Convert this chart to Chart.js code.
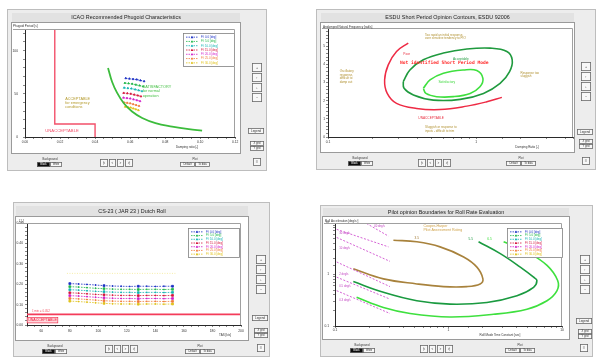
<!DOCTYPE html>
<html><head><meta charset="utf-8">
<script src="https://cdn.jsdelivr.net/npm/chart.js@4.4.1/dist/chart.umd.min.js"></script>
<style>
html,body{margin:0;padding:0;background:#fff;}
#wrap{position:relative;width:600px;height:362px;overflow:hidden;}
canvas{position:absolute;display:block;}
</style></head><body>
<div id="wrap">
<canvas id="bg" width="600" height="362" style="left:0;top:0"></canvas>
<canvas id="c1" width="228" height="130" style="left:12px;top:23px"></canvas>
<canvas id="c2" width="253" height="129" style="left:321px;top:23px"></canvas>
<canvas id="c3" width="232" height="123" style="left:16px;top:217px"></canvas>
<canvas id="c4" width="246" height="122" style="left:323px;top:217px"></canvas>
</div>
<script>
// ================= DATA =================
const seriesNames  = ['Fl: 0.0 [deg]','Fl: 5.0 [deg]','Fl: 10.0 [deg]','Fl: 15.0 [deg]','Fl: 20.0 [deg]','Fl: 25.0 [deg]','Fl: 30.0 [deg]'];
const seriesColors = ['#1a2fc4','#22b84a','#14b4b4','#d4143c','#d020c8','#f07a3a','#e0c21a'];

// Panel 1 - ICAO phugoid
const p1Title = 'ICAO Recommended Phugoid Characteristics';
const p1XTicks = [0, 0.02, 0.04, 0.06, 0.08, 0.10, 0.12];
const p1YTicks = [0, 50, 100];
const p1UnaccX = [0.017, 0.017, 0.04, 0.04];
const p1UnaccY = [125, 15, 15, 0];
const p1SatX = [0.0474,0.0497,0.0526,0.0564,0.0611,0.0669,0.0745,0.084,0.0935,0.1011];
const p1SatY = [80,64,51,39,29.5,22,16,12,9,7.3];
const p1RunX = [
 [0.0575,0.0596,0.0617,0.0638,0.0659,0.0680],
 [0.0570,0.0591,0.0612,0.0633,0.0654,0.0674],
 [0.0566,0.0587,0.0608,0.0629,0.0649,0.0668],
 [0.0563,0.0584,0.0604,0.0624,0.0644,0.0662],
 [0.0562,0.0582,0.0601,0.0620,0.0639,0.0657],
 [0.0565,0.0583,0.0600,0.0617,0.0634,0.0651],
 [0.0572,0.0588,0.0603,0.0618,0.0633,0.0648]];
const p1RunY = [
 [68,67.5,67,66.5,65.5,64.5],
 [62.5,62,61.5,60.5,59.5,58.5],
 [57,56.5,56,55,54,53],
 [51,50.5,50,49,48,47],
 [45.5,45,44.5,43.5,42.5,41.5],
 [40,39.5,39,38,37,36],
 [35,34.5,34,33,32,31]];

// Panel 2 - ESDU short period
const p2Title = 'ESDU Short Period Opinion Contours, ESDU 92006';
const p2XTicks = [0.1, 1];
const p2YTicks = [0,1,2,3,4,5,6];
const p2PoorX = [0.348,0.290,0.255,0.241,0.251,0.290,0.396,0.570,0.865,1.18,1.49];
const p2PoorY = [5.17,4.71,3.97,3.14,2.40,1.85,1.57,1.51,1.70,1.94,2.18];
const p2AccX = [0.322,0.357,0.440,0.601,0.865,1.24,1.61,1.75,1.68,1.45,1.12,0.780,0.514,0.377,0.326,0.322];
const p2AccY = [3.05,3.69,4.25,4.62,4.84,4.89,4.71,4.25,3.60,2.95,2.40,2.07,2.03,2.31,2.68,3.05];
const p2SatX = [0.440,0.488,0.601,0.821,1.01,1.11,1.06,0.910,0.701,0.541,0.458,0.440];
const p2SatY = [2.68,3.14,3.51,3.69,3.66,3.23,2.77,2.40,2.22,2.22,2.40,2.68];

// Panel 3 - CS-23 Dutch roll
const p3Title = 'CS-23 ( JAR 23 ) Dutch Roll';
const p3XTicks = [60,80,100,120,140,160,180,200];
const p3YTicks = [0,0.1,0.2,0.3,0.4,0.5];
const p3Speeds = [80,86,92,98,104,110,116,122,128,134,140,146,152];
const p3Zeta = [
 [0.203,0.201,0.199,0.196,0.193,0.191,0.190,0.189,0.190,0.190,0.189,0.190,0.190],
 [0.188,0.186,0.183,0.180,0.178,0.176,0.175,0.175,0.174,0.175,0.175,0.174,0.175],
 [0.173,0.171,0.168,0.165,0.163,0.161,0.160,0.160,0.159,0.160,0.160,0.159,0.160],
 [0.158,0.156,0.153,0.150,0.148,0.146,0.145,0.145,0.144,0.145,0.145,0.144,0.145],
 [0.144,0.142,0.139,0.136,0.133,0.131,0.130,0.130,0.129,0.130,0.130,0.129,0.130],
 [0.130,0.128,0.125,0.122,0.119,0.117,0.116,0.116,0.115,0.116,0.116,0.115,0.116],
 [0.117,0.115,0.112,0.109,0.106,0.104,0.103,0.103,0.102,0.103,0.103,0.102,0.103]];
const p3LimitX = [50, 200];
const p3LimitY = [0.052, 0.052];
const p3BoundX = [78, 154];
const p3BoundY = [0.253, 0.253];

// Panel 4 - Roll rate
const p4Title = 'Pilot opinion Boundaries for Roll Rate Evaluation';
const p4XTicks = [0.1, 1, 10];
const p4YTicks = [0.1, 1, 10];
const p4BrownX = [0.327,0.526,0.843,1.36,1.78,2.01,1.90,1.45,0.904,0.526,0.267,0.145];
const p4BrownY = [4.64,4.31,3.44,2.19,1.39,0.822,0.656,0.582,0.582,0.656,0.822,1.29];
const p4DkGreenX = [1.84,2.86,4.29,5.62,6.01,5.62,4.01,2.18,1.03,0.526,0.267,0.145];
const p4DkGreenY = [4.31,2.54,1.39,0.887,0.762,0.565,0.388,0.287,0.266,0.309,0.451,0.73];
const p4LtGreenX = [3.06,4.91,7.38,9.16,9.04,7.38,4.91,2.49,1.03,0.459,0.267,0.155];
const p4LtGreenY = [4.31,2.74,1.50,0.762,0.485,0.309,0.212,0.169,0.150,0.175,0.229,0.360];
const p4RateX = [[0.178,0.296],[0.1035,0.296],[0.1035,0.305],[0.1035,0.305],[0.1035,0.305],[0.1035,0.305]];
const p4RateY = [[10.6,5.56],[7.52,3.44],[5.24,1.80],[1.75,0.582],[0.887,0.333],[0.485,0.175]];
const p4RateLabels = ['40 deg/s','30 deg/s','10 deg/s','2 deg/s','0.5 deg/s','0.3 deg/s'];

// ================= RENDER =================
const FONT = "'Liberation Sans', Arial, sans-serif";
const MONO = "'DejaVu Sans Mono', 'Liberation Mono', monospace";
Chart.defaults.font.family = FONT;
Chart.defaults.color = '#333';

// ---- window chrome ----
const bg = document.getElementById('bg').getContext('2d');
function button(x,y,w,h,t,dark,fs){
  bg.fillStyle = dark ? '#0c0c0c' : '#f8f8f8';
  bg.fillRect(x,y,w,h);
  bg.strokeStyle = '#6a6a6a'; bg.lineWidth = 0.8;
  bg.strokeRect(x+0.4,y+0.4,w-0.8,h-0.8);
  bg.fillStyle = dark ? '#fff' : '#333';
  bg.font = `${fs||3}px ${FONT}`; bg.textAlign='center'; bg.textBaseline='middle';
  bg.fillText(t, x+w/2, y+h/2+0.2);
}
function label(x,y,t){
  bg.fillStyle='#333'; bg.font=`2.8px ${FONT}`; bg.textAlign='center'; bg.textBaseline='middle';
  bg.fillText(t,x,y);
}
const wins = [
 {frame:[7,9,260,162], strip:[12,13,228,10], white:[12,23,228,130], title:p1Title,
  zoomX:252, zoomY:63, legend:[248,128,16,6], grid:[250,141,14], small:[253,158,8,8],
  bgLbl:[50,159], tog:[37,162], nav:[100,159], plotLbl:[195,159], plot:[180,162]},
 {frame:[316,9,280,161], strip:[321,13,253,10], white:[321,23,253,129], title:p2Title,
  zoomX:581, zoomY:62, legend:[577,129,16,6], grid:[579,139,14], small:[582,157,8,8],
  bgLbl:[360,158], tog:[348,161], nav:[418,159], plotLbl:[521,158], plot:[506,161]},
 {frame:[13,202,257,155], strip:[16,206,232,11], white:[16,217,232,123], title:p3Title,
  zoomX:256, zoomY:255, legend:[252,315,16,6], grid:[254,328,14], small:[257,344,8,8],
  bgLbl:[55,346], tog:[42,349], nav:[105,345], plotLbl:[200,346], plot:[185,349]},
 {frame:[320,205,273,152], strip:[323,208,246,9], white:[323,217,246,122], title:p4Title,
  zoomX:580, zoomY:255, legend:[576,318,16,6], grid:[578,329,14], small:[580,344,8,8],
  bgLbl:[362,345], tog:[350,348], nav:[420,345], plotLbl:[520,345], plot:[505,348]}
];
for (const w of wins){
  const [fx,fy,fw,fh] = w.frame;
  bg.fillStyle='#ededed'; bg.fillRect(fx,fy,fw,fh);
  bg.strokeStyle='#bdbdbd'; bg.lineWidth=1; bg.strokeRect(fx+0.5,fy+0.5,fw-1,fh-1);
  const [sx,sy,sw,sh] = w.strip;
  bg.fillStyle='#e2e2e2'; bg.fillRect(sx,sy,sw,sh);
  bg.strokeStyle='#8c8c8c'; bg.beginPath(); bg.moveTo(sx,sy+sh-0.5); bg.lineTo(sx+sw,sy+sh-0.5); bg.stroke();
  bg.fillStyle='#1c1c1c'; bg.font=`5.4px ${FONT}`; bg.textAlign='center'; bg.textBaseline='middle';
  bg.fillText(w.title, sx+sw/2, sy+sh/2);
  const [wx,wy,ww,wh] = w.white;
  bg.fillStyle='#fff'; bg.fillRect(wx,wy,ww,wh);
  bg.strokeStyle='#9a9a9a'; bg.strokeRect(wx-0.5,wy-0.5,ww+1,wh+1);
  ['+','\u2191','\u2193','\u2212'].forEach((t,i)=>button(w.zoomX, w.zoomY+i*10, 10, 9, t, false, 3.6));
  button(...w.legend, 'Legend');
  button(w.grid[0], w.grid[1], w.grid[2], 5, 'X grid', false, 2.6);
  button(w.grid[0], w.grid[1]+5, w.grid[2], 5, 'Y grid', false, 2.6);
  button(...w.small, '\u2261', false, 4);
  label(w.bgLbl[0], w.bgLbl[1], 'Background');
  button(w.tog[0], w.tog[1], 13, 5, 'Black', true, 2.6);
  button(w.tog[0]+13, w.tog[1], 12, 5, 'White', false, 2.6);
  const navW=[8,7,7,8], navT=['|<','<','>','>|']; let nx=w.nav[0];
  navW.forEach((nw,i)=>{ button(nx, w.nav[1], nw, 8, navT[i], false, 3); nx += nw+1; });
  label(w.plotLbl[0], w.plotLbl[1], 'Plot');
  button(w.plot[0], w.plot[1], 15, 5, 'Default', false, 2.6);
  button(w.plot[0]+15, w.plot[1], 15, 5, 'To data', false, 2.6);
}

// ---- chart helpers ----
function onTicks(list, fmt){
  return function(v){
    return list.some(t => Math.abs(t - v) <= 1e-6*Math.max(1e-3, Math.abs(t))) ? fmt(v) : '';
  };
}
function axis(o){
  return {
    type:o.type||'linear', min:o.min, max:o.max, position:o.pos,
    afterFit(s){ if(o.pos==='bottom'){ s.height=o.size; } else { s.width=o.size; }
      s.paddingLeft=0; s.paddingRight=0; s.paddingTop=0; s.paddingBottom=0; },
    border:{display:true,color:'#2a2a2a',width:1},
    grid:{display:true,drawOnChartArea:false,drawTicks:true,tickLength:2,color:'#555',lineWidth:0.7},
    ticks:{autoSkip:false,maxRotation:0,minRotation:0,padding:o.pad,font:{size:3.3},color:'#333',
      stepSize:o.step,callback:o.cb}
  };
}
function ds(xs, ys, color, extra){
  return Object.assign({data: xs.map((x,i)=>({x:x, y:ys[i]})), borderColor:color, backgroundColor:color,
    borderWidth:1, pointRadius:0, fill:false, tension:0}, extra||{});
}
function drawLegend(g, L){
  g.fillStyle='#fff'; g.fillRect(L.x,L.y,L.w,L.h);
  g.strokeStyle='#808080'; g.lineWidth=0.8; g.strokeRect(L.x+0.5,L.y+0.5,L.w-1,L.h-1);
  const n = seriesNames.length, rh = (L.h-4)/n;
  g.font=`2.9px ${FONT}`; g.textAlign='left'; g.textBaseline='middle';
  seriesNames.forEach((nm,i)=>{
    const y = L.y+2+rh*(i+0.5), c = seriesColors[i];
    g.strokeStyle=c; g.lineWidth=0.8; g.setLineDash([1.5,1]);
    g.beginPath(); g.moveTo(L.x+3,y); g.lineTo(L.x+15,y); g.stroke(); g.setLineDash([]);
    g.fillStyle=c; g.beginPath(); g.moveTo(L.x+9,y-1.3); g.lineTo(L.x+10.3,y+1); g.lineTo(L.x+7.7,y+1); g.closePath(); g.fill();
    g.fillText(nm, L.x+18, y);
  });
}
const decorSpecs = {};
const decor = {
  id:'decor',
  afterDatasetsDraw(chart){
    const d = decorSpecs[chart.canvas.id]; if(!d) return;
    const g = chart.ctx, a = chart.chartArea, xs = chart.scales.x, ys = chart.scales.y;
    g.save();
    g.strokeStyle='#a0a0a0'; g.lineWidth=1;
    const T = Math.round(a.top)+0.5, R = Math.round(a.right)-0.5;
    g.beginPath(); g.moveTo(d.topFrom, T); g.lineTo(R, T); g.lineTo(R, a.bottom); g.stroke();
    g.textBaseline='middle';
    for (const n of d.notes){
      g.font = `${n.b?'bold ':''}${n.s}px ${n.mono?MONO:FONT}`;
      g.textAlign = n.al||'left';
      const px = xs.getPixelForValue(n.x), py = ys.getPixelForValue(n.y);
      if (n.box){ const tw = g.measureText(n.t[0]).width;
        g.fillStyle=n.box; g.fillRect(px-1, py-n.s/2-1, tw+2, n.s+2);
        g.strokeStyle=n.c; g.lineWidth=0.6; g.strokeRect(px-1, py-n.s/2-1, tw+2, n.s+2); }
      g.fillStyle=n.c;
      n.t.forEach((ln,i)=>g.fillText(ln, px, py+i*(n.lh||n.s)));
    }
    g.fillStyle='#333'; g.font=`3px ${FONT}`;
    g.textAlign='left'; g.fillText(d.yTitle, d.yt[0], d.yt[1]);
    g.textAlign='center'; g.fillText(d.xTitle, d.xt[0], d.xt[1]);
    if (d.legend) drawLegend(g, d.legend);
    g.restore();
  }
};
function opts(pt, pr, x, y){
  return {responsive:false, maintainAspectRatio:false, animation:false, devicePixelRatio:1,
    layout:{padding:{top:pt,right:pr,left:0,bottom:0}},
    plugins:{legend:{display:false}, tooltip:{enabled:false}, title:{display:false}},
    scales:{x:x, y:y}};
}

// ---- Chart 1 ----
decorSpecs.c1 = {topFrom:1, yTitle:'Phugoid Period [s]', yt:[1,3], xTitle:'Damping ratio [-]', xt:[175,124],
  legend:{x:171,y:10,w:52,h:34},
  notes:[
   {t:['ACCEPTABLE','for emergency','conditions'], x:0.023, y:43.8, c:'#b49a2c', s:3.8, lh:4},
   {t:['UNACCEPTABLE'], x:0.0116, y:7, c:'#f2506a', s:4.2},
   {t:['SATISFACTORY','for normal','operation'], x:0.0672, y:57.8, c:'#46c046', s:3.8, lh:4.3}
  ]};
new Chart('c1', {type:'line', plugins:[decor], data:{datasets:[
  ds(p1UnaccX, p1UnaccY, '#f2506a', {borderWidth:1.4}),
  ds(p1SatX, p1SatY, '#3cbc3c', {borderWidth:1.8, tension:0.4}),
  ...p1RunX.map((xs,i)=>ds(xs, p1RunY[i], seriesColors[i], {borderWidth:0.8, borderDash:[1.8,1.2], pointRadius:1, pointStyle:'triangle'}))
 ]},
 options: opts(6, 4,
   axis({min:0, max:0.12, pos:'bottom', size:16, pad:1, step:0.005, cb:onTicks(p1XTicks, v=>v.toFixed(2))}),
   axis({min:0, max:125, pos:'left', size:13, pad:5, step:10, cb:onTicks(p1YTicks, v=>String(Math.round(v)))}))
});

// ---- Chart 2 ----
decorSpecs.c2 = {topFrom:1, yTitle:'Undamped Natural Frequency [rad/s]', yt:[2,4], xTitle:'Damping Ratio [-]', xt:[206,124],
  legend:null,
  notes:[
   {t:['Too rapid an initial response,','over sensitive tendency to PIO'], x:0.452, y:5.63, c:'#b09030', s:3, lh:3.9},
   {t:['Poor'], x:0.322, y:4.56, c:'#e83040', s:3.2},
   {t:['Acceptable'], x:0.697, y:4.30, c:'#1f9a3e', s:3.2},
   {t:['Not identified Short Period Mode'], x:0.306, y:4.06, c:'#ff2a2a', s:4.6, b:true, mono:true},
   {t:['Satisfactory'], x:0.556, y:3.03, c:'#3fd83f', s:3.2},
   {t:['Oscillatory','response,','difficult to','damp out'], x:0.120, y:3.62, c:'#b09030', s:3, lh:3.7},
   {t:['Response too','sluggish'], x:1.99, y:3.54, c:'#b09030', s:3, lh:3.9},
   {t:['UNACCEPTABLE'], x:0.407, y:1.02, c:'#e83040', s:3.2},
   {t:['Sluggish or response to','inputs - difficult to trim'], x:0.452, y:0.55, c:'#b09030', s:3, lh:3.9}
  ]};
new Chart('c2', {type:'line', plugins:[decor], data:{datasets:[
  ds(p2PoorX, p2PoorY, '#ee2a44', {borderWidth:1.5, tension:0.4}),
  ds(p2AccX, p2AccY, '#1f9a3e', {borderWidth:1.6, tension:0.4}),
  ds(p2SatX, p2SatY, '#3fe03f', {borderWidth:1.6, tension:0.4})
 ]},
 options: opts(5, 1,
   axis({type:'logarithmic', min:0.1, max:4.5, pos:'bottom', size:15, pad:1, cb:onTicks(p2XTicks, v=>String(v))}),
   axis({min:0, max:6, pos:'left', size:7, pad:1, step:0.2, cb:onTicks(p2YTicks, v=>String(Math.round(v)))}))
});

// ---- Chart 3 ----
decorSpecs.c3 = {topFrom:1, yTitle:'\u03b6 [-]', yt:[3,4], xTitle:'TAS [kts]', xt:[209,118],
  legend:{x:172,y:11,w:52,h:30},
  notes:[
   {t:['\u03b6 min = 0.052'], x:53.5, y:0.066, c:'#f05060', s:3},
   {t:['UNACCEPTABLE'], x:50.8, y:0.024, c:'#f01e3c', s:3.6, box:'#ffd6dc'}
  ]};
new Chart('c3', {type:'line', plugins:[decor], data:{datasets:[
  ds(p3LimitX, p3LimitY, '#f43c5a', {borderWidth:1.6}),
  ds(p3BoundX, p3BoundY, '#f4e890', {borderWidth:0.8, borderDash:[1,1.5]}),
  ...p3Zeta.map((ys,i)=>ds(p3Speeds, ys, seriesColors[i], {borderWidth:0.8, borderDash:[1.6,1.2],
     pointStyle:'rect', pointRadius:(c)=> (c.dataIndex % 4 === 0 ? 1.3 : 0.6)}))
 ]},
 options: opts(6, 7,
   axis({min:50, max:200, pos:'bottom', size:15, pad:2, step:5, cb:onTicks(p3XTicks, v=>String(Math.round(v)))}),
   axis({min:0, max:0.5, pos:'left', size:11, pad:2, step:0.02, cb:onTicks(p3YTicks, v=>v.toFixed(2))}))
});

// ---- Chart 4 ----
decorSpecs.c4 = {topFrom:1, yTitle:'Roll Acceleration [deg/s\u00b2]', yt:[2,4], xTitle:'Roll Mode Time Constant [sec]', xt:[177,118],
  legend:{x:184,y:11,w:56,h:30},
  notes:[
   {t:['Cooper-Harper','Pilot Assessment Rating'], x:0.601, y:8.73, c:'#cfa24a', s:3.6, lh:4},
   {t:['3.5'], x:0.526, y:5.0, c:'#a07a34', s:3.2, al:'center'},
   {t:['5.5'], x:1.57, y:4.79, c:'#1a9a40', s:3.2, al:'center'},
   {t:['6.5'], x:2.30, y:4.79, c:'#3ee03e', s:3.2, al:'center'},
   {t:[p4RateLabels[0]], x:0.221, y:8.73, c:'#c040c0', s:2.8},
   {t:[p4RateLabels[1]], x:0.109, y:6.46, c:'#c040c0', s:2.8},
   {t:[p4RateLabels[2]], x:0.109, y:3.18, c:'#c040c0', s:2.8},
   {t:[p4RateLabels[3]], x:0.109, y:1.0, c:'#c040c0', s:2.8},
   {t:[p4RateLabels[4]], x:0.109, y:0.58, c:'#c040c0', s:2.8},
   {t:[p4RateLabels[5]], x:0.109, y:0.318, c:'#c040c0', s:2.8}
  ]};
new Chart('c4', {type:'line', plugins:[decor], data:{datasets:[
  ...p4RateX.map((xs,i)=>ds(xs, p4RateY[i], '#d050d0', {borderWidth:0.9, borderDash:[2,1.6]})),
  ds(p4BrownX, p4BrownY, '#a8823c', {borderWidth:1.6, tension:0.4}),
  ds(p4DkGreenX, p4DkGreenY, '#1a9a40', {borderWidth:1.6, tension:0.4}),
  ds(p4LtGreenX, p4LtGreenY, '#3ee03e', {borderWidth:1.6, tension:0.4}),
  ...seriesNames.map((nm,i)=>ds([], [], seriesColors[i], {label:nm}))
 ]},
 options: opts(6, 7,
   axis({type:'logarithmic', min:0.1, max:10, pos:'bottom', size:13, pad:0, cb:onTicks(p4XTicks, v=>String(v))}),
   axis({type:'logarithmic', min:0.1, max:10, pos:'left', size:12, pad:4, cb:onTicks(p4YTicks, v=>String(v))}))
});
</script>
</body></html>
